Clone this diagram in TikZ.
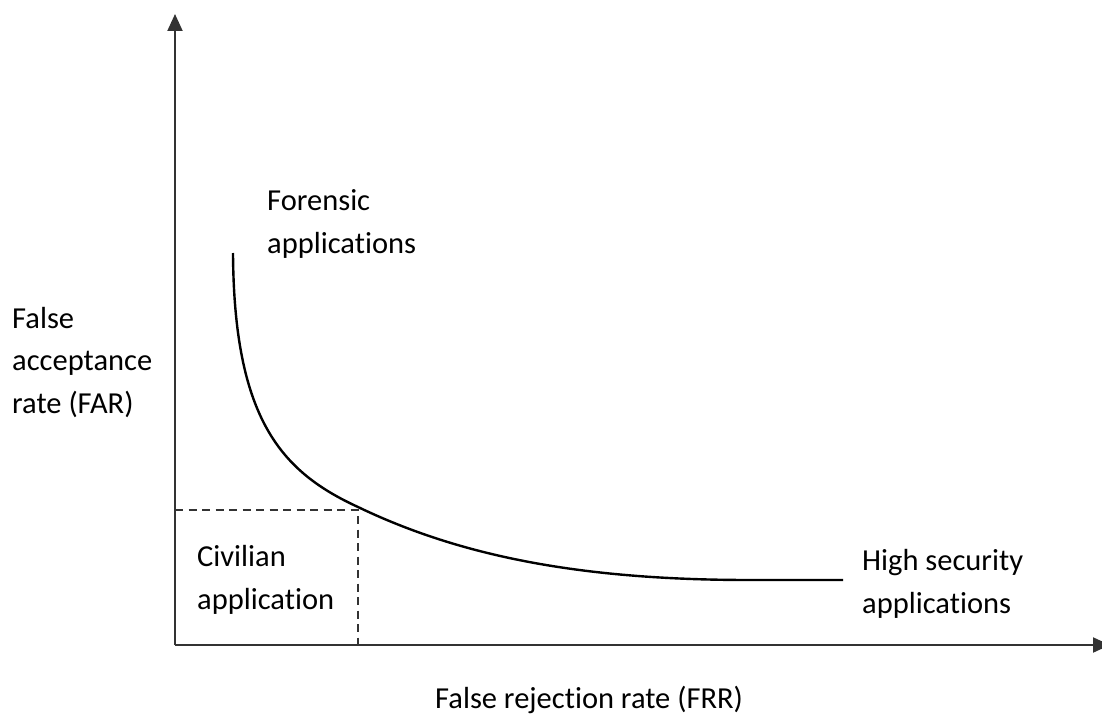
\documentclass[tikz,border=0pt]{standalone}
\usepackage{fontspec}
\setmainfont{Carlito}[Ligatures=NoCommon]
\usetikzlibrary{arrows.meta}
\begin{document}
\begin{tikzpicture}[x=1pt,y=-1pt,
  axis/.style={line width=2pt,draw=black!80,-{Triangle[length=17pt,width=15pt]}},
  guide/.style={line width=1.8pt,draw=black!80,dash pattern=on 8pt off 5.5pt},
  roc/.style={line width=2.4pt,draw=black},
  lbl/.style={inner sep=0pt,anchor=base west,align=left,
    font=\fontsize{30.5}{42.5}\selectfont}]
  \useasboundingbox (0,0) rectangle (1102,717);
  % axes
  \coordinate (origin) at (175,645);
  \coordinate (ytop) at (175,14);
  \coordinate (xend) at (1110,645);
  \draw[axis] (origin) -- (ytop);
  \draw[axis] (origin) -- (xend);
  % operating point of civilian systems
  \coordinate (op) at (358,510);
  \coordinate (opy) at (175,510);
  \coordinate (opx) at (358,645);
  \draw[guide] (opy) -- (op) -- (opx);
  % error trade-off curve
  \coordinate (cstart) at (233,253);
  \coordinate (cmid) at (358,507);
  \coordinate (cflat) at (750,580);
  \coordinate (cend) at (843,580);
  \draw[roc] (cstart) .. controls (234,420) and (282,472) .. (cmid)
    .. controls (460,556) and (580,580) .. (cflat) -- (cend);
  % labels (anchored at the baseline of their last line)
  \node[lbl] (forensic) at (267,253) {Forensic\\applications};
  \node[lbl] (far) at (12,413) {False\\acceptance\\rate (FAR)};
  \node[lbl] (civilian) at (197,609) {Civilian\\application};
  \node[lbl] (highsec) at (862,613) {High security\\applications};
  \node[lbl] (frr) at (435,708) {False rejection rate (FRR)};
\end{tikzpicture}
\end{document}
